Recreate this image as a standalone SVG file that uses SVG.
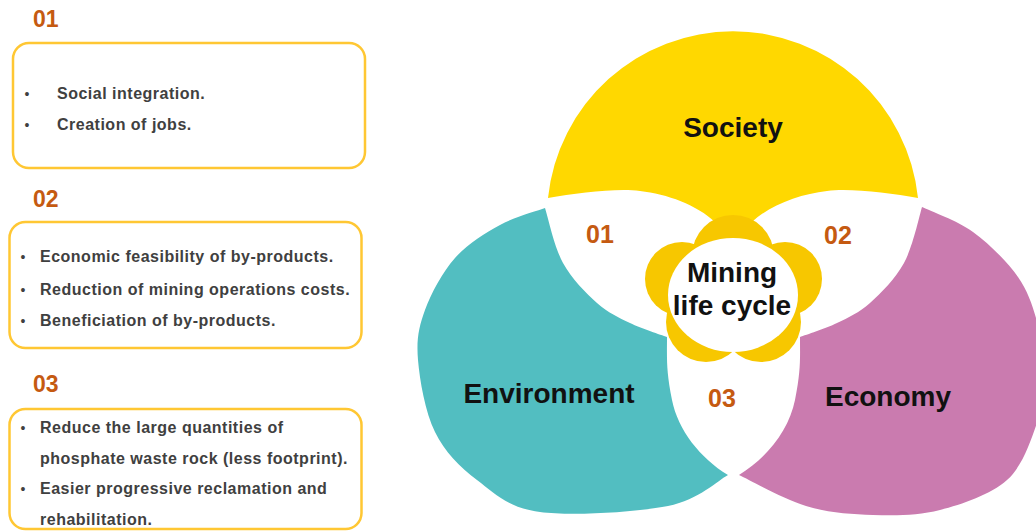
<svg xmlns="http://www.w3.org/2000/svg" width="1036" height="531" viewBox="0 0 1036 531">
<style>
.hdr{font-family:"Liberation Sans",Arial,sans-serif;font-weight:bold;font-size:23px;fill:#C55A11}
.num{font-family:"Liberation Sans",Arial,sans-serif;font-weight:bold;font-size:25px;fill:#C55A11;text-anchor:middle}
.box{fill:#FFFFFF;stroke:#FFC733;stroke-width:2.5}
.txt{font-family:"Liberation Sans",Arial,sans-serif;font-weight:bold;font-size:16px;letter-spacing:0.5px;fill:#404040}
.bul{font-family:"Liberation Sans",Arial,sans-serif;font-size:14px;fill:#404040;text-anchor:middle}
.big{font-family:"Liberation Sans",Arial,sans-serif;font-weight:bold;font-size:28px;fill:#111111;text-anchor:middle}
.petal{fill:#F7C700}
</style>
<rect x="0" y="0" width="1036" height="531" fill="#FFFFFF"/>

<g id="box-01">
<text class="hdr" x="33" y="27">01</text>
<rect class="box" x="13" y="43" width="352" height="125" rx="16"/>
<text class="bul" x="27" y="99">•</text>
<text class="txt" x="57" y="99">Social integration.</text>
<text class="bul" x="27" y="130">•</text>
<text class="txt" x="57" y="130">Creation of jobs.</text>
</g>

<g id="box-02">
<text class="hdr" x="33" y="207">02</text>
<rect class="box" x="9.5" y="222" width="352" height="126" rx="16"/>
<text class="bul" x="23" y="262">•</text>
<text class="txt" x="40" y="262">Economic feasibility of by-products.</text>
<text class="bul" x="23" y="295">•</text>
<text class="txt" x="40" y="295">Reduction of mining operations costs.</text>
<text class="bul" x="23" y="326">•</text>
<text class="txt" x="40" y="326">Beneficiation of by-products.</text>
</g>

<g id="box-03">
<text class="hdr" x="33" y="392">03</text>
<rect class="box" x="9.5" y="409" width="352" height="120" rx="16"/>
<text class="bul" x="23" y="433">•</text>
<text class="txt" x="40" y="433">Reduce the large quantities of</text>
<text class="txt" x="40" y="463.5">phosphate waste rock (less footprint).</text>
<text class="bul" x="23" y="494">•</text>
<text class="txt" x="40" y="494">Easier progressive reclamation and</text>
<text class="txt" x="40" y="525">rehabilitation.</text>
</g>

<g id="node-society">
<path fill="#FFD800" d="M548,198 A186,186 0 0 1 918,198 C890,193 850,188 827,191 C800,194 770,205 752,222 L733,240 L715,222 C697,205 667,194 640,191 C617,188 577,193 548,198 Z"/>
<text class="big" x="733" y="137">Society</text>
</g>

<g id="node-environment">
<path fill="#52BEC1" d="M545,208 C537.5,210.8 515,216.7 500,225 C485,233.3 467.5,243.8 455,258 C442.5,272.2 431.2,293 425,310 C418.8,327 416.3,339.7 418,360 C419.7,380.3 425.2,412 435,432 C444.8,452 459.5,466.7 477,480 C494.5,493.3 508.2,507.7 540,512 C571.8,516.3 636.7,512.2 668,506 C699.3,499.8 718,480.2 728,475 C700,458 678,430 672,400 C666,370 667,360 667,337 C660.8,334.7 641.7,328.7 630,323 C618.3,317.3 608.2,313 597,303 C585.8,293 571.7,278.8 563,263 C554.3,247.2 548,217.2 545,208 Z"/>
<text class="big" x="549" y="403">Environment</text>
</g>

<g id="node-economy">
<path fill="#CA7BAF" d="M922,207 C930.5,211.2 957,220.3 973,232 C989,243.7 1007.2,261.5 1018,277 C1028.8,292.5 1033.5,308.7 1038,325 C1042.5,341.3 1045.2,358.7 1045,375 C1044.8,391.3 1043.3,405.5 1037,423 C1030.7,440.5 1023.2,465.5 1007,480 C990.8,494.5 962.3,504.2 940,510 C917.7,515.8 895.3,515.7 873,515 C850.7,514.3 828.3,512.7 806,506 C783.7,499.3 750.2,480.2 739,475 C767,458 789,430 795,400 C801,370 800,360 800,337 C806.2,334.7 825.3,328.7 837,323 C848.7,317.3 858.8,313 870,303 C881.2,293 895.3,278.8 904,263 C912.7,247.2 919,217.2 922,207 Z"/>
<text class="big" x="888" y="406">Economy</text>
</g>

<g id="overlap-labels">
<text class="num" x="600" y="243">01</text>
<text class="num" x="838" y="244">02</text>
<text class="num" x="722" y="407">03</text>
</g>

<g id="node-center">
<circle class="petal" cx="733" cy="256" r="41"/>
<circle class="petal" cx="682" cy="279" r="37"/>
<circle class="petal" cx="785" cy="279" r="37"/>
<circle class="petal" cx="706" cy="322" r="40"/>
<circle class="petal" cx="761" cy="322" r="40"/>
<ellipse cx="733" cy="295" rx="65" ry="57" fill="#FFFFFF"/>
<text class="big" x="732" y="282">Mining</text>
<text class="big" x="732" y="315">life cycle</text>
</g>

<g id="connectors"/>
</svg>
